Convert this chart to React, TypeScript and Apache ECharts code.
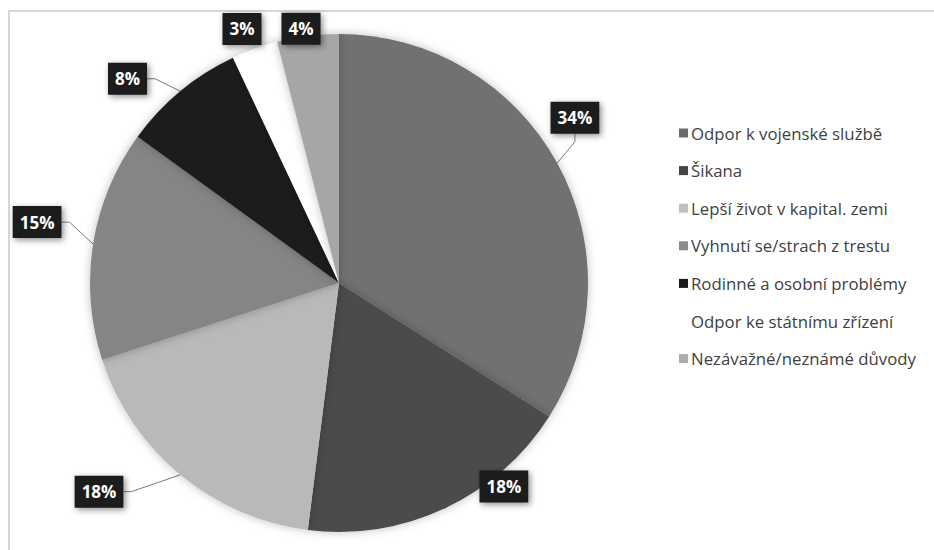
import React, { useEffect, useRef } from "react";
import * as echarts from "echarts";

const categories = [
  "Odpor k vojenské službě",
  "Šikana",
  "Lepší život v kapital. zemi",
  "Vyhnutí se/strach z trestu",
  "Rodinné a osobní problémy",
  "Odpor ke státnímu zřízení",
  "Nezávažné/neznámé důvody",
];
const values = [34, 18, 18, 15, 8, 3, 4];
const colors = ["#717171", "#4b4b4b", "#b9b9b9", "#858585", "#1f1f1f", "#ffffff", "#a6a6a6"];
const legendIconColors = ["#6a6a6a", "#454545", "#c0c0c0", "#8a8a8a", "#1a1a1a", "#ffffff", "#ababab"];
const showLeader = [true, true, true, true, true, false, false];

// label placement around the pie: [angle in degrees, distance from centre]
const labelPolar: [number, number][] = [
  [35, 288],
  [-51, 262],
  [-139, 318],
  [168.6, 308],
  [136, 294],
  [110.9, 272],
  [98.5, 257],
];

const CX = 339;
const CY = 283;
const R = 249;

export default function App() {
  const ref = useRef<HTMLDivElement>(null);
  useEffect(() => {
    document.body.style.margin = "0";
    const chart = echarts.init(ref.current!, null, { renderer: "svg" });
    chart.setOption({
      animation: false,
      backgroundColor: "#ffffff",
      graphic: [
        {
          type: "rect",
          shape: { x: 9, y: 11, width: 940, height: 560 },
          style: { fill: "none", stroke: "#d6d6d6", lineWidth: 2 },
          silent: true,
        },
      ],
      legend: {
        orient: "vertical",
        left: 674,
        top: 118,
        itemWidth: 9,
        itemHeight: 9,
        itemGap: 17.6,
        icon: "rect",
        textStyle: {
          fontFamily: "Open Sans",
          fontSize: 16.8,
          color: "#404040",
          lineHeight: 20,
          padding: [0, 0, 0, -2],
        },
        data: categories.map((c, i) => ({
          name: c,
          itemStyle: { color: legendIconColors[i], borderWidth: 0 },
        })),
      },
      series: [
        {
          type: "pie",
          center: [CX, CY],
          radius: R,
          startAngle: 90,
          clockwise: true,
          avoidLabelOverlap: false,
          itemStyle: {
            borderWidth: 0,
            shadowBlur: 10,
            shadowColor: "rgba(0,0,0,0.25)",
          },
          emphasis: { disabled: true },
          label: {
            show: true,
            position: "outside",
            formatter: "{c}%",
            backgroundColor: "#1c1c1c",
            color: "#ffffff",
            fontFamily: "Open Sans",
            fontWeight: "bold",
            fontSize: 17,
            padding: [8, 7, 7, 7],
            shadowBlur: 6,
            shadowColor: "rgba(0,0,0,0.45)",
            shadowOffsetX: 2,
            shadowOffsetY: 2,
          },
          labelLine: {
            show: true,
            length: 10,
            length2: 8,
            lineStyle: { color: "#7a7a7a", width: 1 },
          },
          labelLayout: (params: any) => {
            const p = labelPolar[params.dataIndex];
            const a = (p[0] * Math.PI) / 180;
            return {
              x: CX + p[1] * Math.cos(a),
              y: CY - p[1] * Math.sin(a),
              align: "center",
              verticalAlign: "middle",
            };
          },
          data: categories.map((c, i) => ({
            name: c,
            value: values[i],
            itemStyle: { color: colors[i] },
            labelLine: { show: showLeader[i] },
          })),
        },
      ],
    });
    return () => chart.dispose();
  }, []);
  return <div ref={ref} style={{ width: 934, height: 550 }} />;
}
